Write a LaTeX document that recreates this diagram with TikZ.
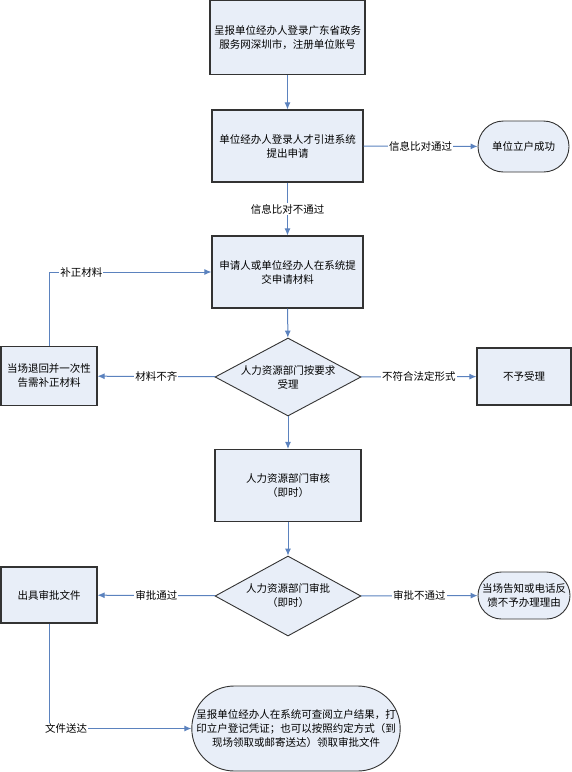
\documentclass[tikz,border=0pt]{standalone}
\usepackage{fontspec}
\setmainfont{Noto Sans CJK SC}
\usetikzlibrary{arrows.meta, positioning, shapes.geometric, shapes.misc}

\definecolor{boxfill}{HTML}{E8EEF8}
\definecolor{flowline}{HTML}{5B82BE}
\definecolor{boxline}{HTML}{333333}

\begin{document}
\begin{tikzpicture}[
    x=1pt, y=-1pt,
    font=\fontsize{10.5}{14}\selectfont,
    block/.style={rectangle, draw=boxline, line width=1.1pt, fill=boxfill, align=center, inner sep=2pt},
    decision/.style={diamond, draw=boxline, line width=0.9pt, fill=boxfill, align=center, inner sep=0pt, aspect=1.87},
    term/.style={rounded rectangle, draw=boxline, line width=0.9pt, fill=boxfill, align=center, inner sep=1pt},
    flow/.style={-{Latex[length=7pt, width=6pt]}, draw=flowline, line width=1pt},
    lbl/.style={fill=white, inner sep=1pt}
    ]
    \useasboundingbox (0,0) rectangle (572,772);

    % Register
    \node[block, minimum width=155pt, minimum height=74pt] (reg) at (287.5,37.5) {呈报单位经办人登录广东省政务\\服务网深圳市，注册单位账号};

    % Apply
    \node[block, minimum width=151pt, minimum height=72pt] (apply) at (287.5,146) {单位经办人登录人才引进系统\\提出申请};
    \draw[flow] (reg) -- (apply);

    % Account ok
    \node[term, minimum width=93pt, minimum height=51pt] (okacc) at (523.5,146.5) {单位立户成功};
    \draw[flow] (apply) -- node[lbl] {信息比对通过} (okacc);

    % Submit
    \node[block, minimum width=151pt, minimum height=72pt] (submit) at (287.5,272) {申请人或单位经办人在系统提\\交申请材料};
    \draw[flow] (apply) -- node[lbl] {信息比对不通过} (submit);

    % Accept check
    \node[decision, minimum width=146pt, minimum height=78pt] (accept) at (288,377) {人力资源部门按要求\\受理};
    \draw[flow] (submit) -- (accept);

    % Return for more material
    \node[block, minimum width=96pt, minimum height=59pt] (back) at (49,376) {当场退回并一次性\\告需补正材料};
    \draw[flow] (accept) -- node[lbl] {材料不齐} (back);
    \draw[flow] (back.north) |- node[lbl, pos=0.6] {补正材料} (submit.west);

    % Not accepted
    \node[block, minimum width=94pt, minimum height=57pt] (noacc) at (524,376.5) {不予受理};
    \draw[flow] (accept) -- node[lbl] {不符合法定形式} (noacc);

    % Review
    \node[block, minimum width=146pt, minimum height=72pt] (review) at (288,485.5) {人力资源部门审核\\（即时）};
    \draw[flow] (accept) -- (review);

    % Approve
    \node[decision, minimum width=146pt, minimum height=80pt] (approve) at (288,596) {人力资源部门审批\\（即时）};
    \draw[flow] (review) -- (approve);

    % Issue document
    \node[block, minimum width=96pt, minimum height=56pt] (issue) at (49,595) {出具审批文件};
    \draw[flow] (approve) -- node[lbl] {审批通过} (issue);

    % Refuse
    \node[term, minimum width=94pt, minimum height=47pt] (refuse) at (524,595.5) {当场告知或电话反\\馈不予办理理由};
    \draw[flow] (approve) -- node[lbl] {审批不通过} (refuse);

    % Final
    \node[term, minimum width=208pt, minimum height=85pt, inner sep=0pt] (final) at (296,728.5) {呈报单位经办人在系统可查阅立户结果，打\\印立户登记凭证；也可以按照约定方式（到\\现场领取或邮寄送达）领取审批文件};
    \draw[flow] (issue.south) |- node[lbl, pos=0.56] {文件送达} (final.west);

\end{tikzpicture}
\end{document}
